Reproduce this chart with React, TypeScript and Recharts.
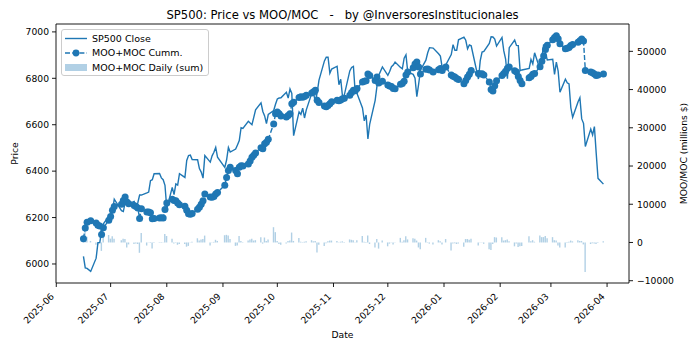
import React from "react";
import {
  ComposedChart,
  Line,
  Bar,
  XAxis,
  YAxis,
  Legend,
  ReferenceLine,
} from "recharts";

// ---------- data ----------
const DATES: string[] = [
  // 2025-06
  "2025-06-16", "2025-06-17", "2025-06-18", "2025-06-20", "2025-06-23", "2025-06-24", "2025-06-25", "2025-06-26", "2025-06-27", "2025-06-30",
  // 2025-07
  "2025-07-01", "2025-07-02", "2025-07-03", "2025-07-07", "2025-07-08", "2025-07-09", "2025-07-10", "2025-07-11", "2025-07-14", "2025-07-15", "2025-07-16",
  "2025-07-17", "2025-07-18", "2025-07-21", "2025-07-22", "2025-07-23", "2025-07-24", "2025-07-25", "2025-07-28", "2025-07-29", "2025-07-30", "2025-07-31",
  // 2025-08
  "2025-08-01", "2025-08-04", "2025-08-05", "2025-08-06", "2025-08-07", "2025-08-08", "2025-08-11", "2025-08-12", "2025-08-13", "2025-08-14", "2025-08-15",
  "2025-08-18", "2025-08-19", "2025-08-20", "2025-08-21", "2025-08-22", "2025-08-25", "2025-08-26", "2025-08-27", "2025-08-28", "2025-08-29",
  // 2025-09
  "2025-09-02", "2025-09-03", "2025-09-04", "2025-09-05", "2025-09-08", "2025-09-09", "2025-09-10", "2025-09-11", "2025-09-12", "2025-09-15", "2025-09-16",
  "2025-09-17", "2025-09-18", "2025-09-19", "2025-09-22", "2025-09-23", "2025-09-24", "2025-09-25", "2025-09-26", "2025-09-29", "2025-09-30",
  // 2025-10
  "2025-10-01", "2025-10-02", "2025-10-03", "2025-10-06", "2025-10-07", "2025-10-08", "2025-10-09", "2025-10-10", "2025-10-13", "2025-10-14", "2025-10-15",
  "2025-10-16", "2025-10-17", "2025-10-20", "2025-10-21", "2025-10-22", "2025-10-23", "2025-10-24", "2025-10-27", "2025-10-28", "2025-10-29", "2025-10-30",
  "2025-10-31",
  // 2025-11
  "2025-11-03", "2025-11-04", "2025-11-05", "2025-11-06", "2025-11-07", "2025-11-10", "2025-11-11", "2025-11-12", "2025-11-13", "2025-11-14", "2025-11-17",
  "2025-11-18", "2025-11-19", "2025-11-20", "2025-11-21", "2025-11-24", "2025-11-25", "2025-11-26", "2025-11-28",
  // 2025-12
  "2025-12-01", "2025-12-02", "2025-12-03", "2025-12-04", "2025-12-05", "2025-12-08", "2025-12-09", "2025-12-10", "2025-12-11", "2025-12-12", "2025-12-15",
  "2025-12-16", "2025-12-17", "2025-12-18", "2025-12-19", "2025-12-22", "2025-12-23", "2025-12-24", "2025-12-26", "2025-12-29", "2025-12-30", "2025-12-31",
  // 2026-01
  "2026-01-02", "2026-01-05", "2026-01-06", "2026-01-07", "2026-01-08", "2026-01-09", "2026-01-12", "2026-01-13", "2026-01-14", "2026-01-15", "2026-01-16",
  "2026-01-20", "2026-01-21", "2026-01-22", "2026-01-23", "2026-01-26", "2026-01-27", "2026-01-28", "2026-01-29", "2026-01-30",
  // 2026-02
  "2026-02-02", "2026-02-03", "2026-02-04", "2026-02-05", "2026-02-06", "2026-02-09", "2026-02-10", "2026-02-11", "2026-02-12", "2026-02-13", "2026-02-17",
  "2026-02-18", "2026-02-19", "2026-02-20", "2026-02-23", "2026-02-24", "2026-02-25", "2026-02-26", "2026-02-27",
  // 2026-03
  "2026-03-02", "2026-03-03", "2026-03-04", "2026-03-05", "2026-03-06", "2026-03-09", "2026-03-10", "2026-03-11", "2026-03-12", "2026-03-13", "2026-03-16",
  "2026-03-17", "2026-03-18", "2026-03-19", "2026-03-20", "2026-03-23", "2026-03-24", "2026-03-25", "2026-03-26", "2026-03-27", "2026-03-30",
];

const SP500_CLOSE: number[] = [
  6033, 5983, 5981, 5968, 6025, 6092, 6092, 6141, 6173, 6205,
  6198, 6227, 6279, 6230, 6226, 6263, 6280, 6260, 6269, 6244, 6264, 6297, 6297, 6306, 6310, 6359, 6363, 6389, 6390, 6371, 6363, 6339,
  6238, 6330, 6299, 6345, 6340, 6389, 6373, 6446, 6467, 6469, 6450, 6449, 6411, 6396, 6370, 6467, 6439, 6466, 6481, 6502, 6460,
  6416, 6448, 6502, 6482, 6495, 6513, 6532, 6587, 6584, 6615, 6607, 6600, 6632, 6664, 6694, 6657, 6638, 6605, 6644, 6661, 6688,
  6711, 6715, 6716, 6740, 6715, 6754, 6735, 6553, 6655, 6644, 6671, 6629, 6664, 6735, 6735, 6699, 6738, 6792, 6875, 6891, 6891, 6822, 6840,
  6852, 6772, 6796, 6720, 6729, 6832, 6847, 6851, 6737, 6734, 6672, 6617, 6642, 6539, 6603, 6705, 6766, 6813, 6849,
  6813, 6829, 6850, 6857, 6870, 6847, 6841, 6887, 6901, 6827, 6817, 6800, 6721, 6775, 6835, 6878, 6910, 6932, 6930, 6906, 6896, 6846,
  6858, 6902, 6945, 6921, 6921, 6966, 6977, 6964, 6927, 6944, 6940, 6797, 6876, 6913, 6916, 6950, 6979, 6978, 6969, 6939,
  6976, 6918, 6883, 6798, 6932, 6965, 6942, 6941, 6833, 6836, 6843, 6881, 6862, 6910, 6838, 6890, 6946, 6909, 6879,
  6882, 6817, 6870, 6831, 6740, 6796, 6781, 6776, 6673, 6632, 6699, 6716, 6625, 6606, 6506, 6581, 6556, 6592, 6477, 6369, 6344,
];

const MOO_MOC_CUMM: number[] = [
  1000, 3800, 5300, 5700, 5100, 4500, 4300, 2100, 3850, 5800,
  6800, 8400, 9400, 10000, 11000, 11900, 10600, 10100, 9700, 9400, 9000, 6300, 8800, 8000, 7950, 7800, 6200, 6300, 6400, 6500, 6400, 8600,
  10300, 11300, 11000, 10900, 10300, 9900, 9500, 8400, 7500, 7400, 7600, 8700, 9200, 10000, 10900, 12700, 11900, 11850, 12000, 12700, 13100,
  15000, 17000, 18800, 19700, 18800, 18000, 19700, 20100, 20000, 20500, 21300, 22300, 22800, 23400, 24800, 24500, 25800, 26200, 27000, 31000, 33700,
  34100, 33700, 33100, 32800, 33200, 33700, 36300, 36700, 37900, 38100, 38000, 38200, 38500, 39100, 39400, 39800, 37200, 36600, 35700, 35500, 35800, 36300, 36800,
  37200, 37100, 37300, 37600, 37700, 38500, 39200, 39800, 39700, 40300, 42000, 42200, 42300, 44100, 43700, 42400, 43300, 41700, 42200,
  41200, 40900, 40800, 40300, 40200, 41400, 41600, 42200, 43800, 44600, 45700, 46700, 47200, 45900, 44100, 45300, 45400, 45100, 44600, 45200, 45500, 45000,
  45900, 43800, 43500, 43300, 42900, 42600, 41500, 42400, 43300, 44000, 45000, 44200, 44100, 44150, 43800, 42000, 40000, 39600, 41000, 42300,
  43700, 44200, 44800, 45600, 45900, 44900, 44600, 43400, 42400, 41500, 43100, 43400, 44000, 44200, 46000, 47400, 48800, 50500, 51600,
  53000, 53600, 54100, 53300, 52000, 50700, 50800, 51000, 51500, 51800, 52400, 52800, 53200, 52700, 45000, 44600, 44400, 44100, 43700, 43800, 44100,
];

const MOO_MOC_DAILY: number[] = [
  1000, 2800, 1500, 400, -600, -600, -200, -2200, 1750, 1950,
  1000, 1600, 1000, 600, 1000, 900, -1300, -500, -400, -300, -400, -2700, 2500, -800, -50, -150, -1600, 100, 100, 100, -100, 2200,
  1700, 1000, -300, -100, -600, -400, -400, -1100, -900, -100, 200, 1100, 500, 800, 900, 1800, -800, -50, 150, 700, 400,
  1900, 2000, 1800, 900, -900, -800, 1700, 400, -100, 500, 800, 1000, 500, 600, 1400, -300, 1300, 400, 800, 4000, 2700,
  400, -400, -600, -300, 400, 500, 2600, 400, 1200, 200, -100, 200, 300, 600, 300, 400, -2600, -600, -900, -200, 300, 500, 500,
  400, -100, 200, 300, 100, 800, 700, 600, -100, 600, 1700, 200, 100, 1800, -400, -1300, 900, -1600, 500,
  -1000, -300, -100, -500, -100, 1200, 200, 600, 1600, 800, 1100, 1000, 500, -1300, -1800, 1200, 100, -300, -500, 600, 300, -500,
  900, -2100, -300, -200, -400, -300, -1100, 900, 900, 700, 1000, -800, -100, 50, -350, -1800, -2000, -400, 1400, 1300,
  1400, 500, 600, 800, 300, -1000, -300, -1200, -1000, -900, 1600, 300, 600, 200, 1800, 1400, 1400, 1700, 1100,
  1400, 600, 500, -800, -1300, -1300, 100, 200, 500, 300, 600, 400, 400, -500, -7700, -400, -200, -300, -400, 100, 300,
];

const MONTH_TICKS: string[] = [
  "2025-06", "2025-07", "2025-08", "2025-09", "2025-10", "2025-11",
  "2025-12", "2026-01", "2026-02", "2026-03", "2026-04",
];
const PRICE_TICKS: number[] = [6000, 6200, 6400, 6600, 6800, 7000];
const MM_TICKS: number[] = [-10000, 0, 10000, 20000, 30000, 40000, 50000];

const TITLE = "SP500: Price vs MOO/MOC   -   by @InversoresInstitucionales";

// ---------- derived table ----------
const DAY = 86400000;
const data = DATES.map((d, i) => ({
  t: Date.parse(d),
  close: SP500_CLOSE[i],
  cum: MOO_MOC_CUMM[i],
  daily: MOO_MOC_DAILY[i],
}));
const xTicks = MONTH_TICKS.map((m) => Date.parse(m + "-01"));
const xDomain = [Date.parse("2025-06-01") - 0.15 * DAY, Date.parse("2025-06-01") + 316.1 * DAY];

const BLUE = "#1f77b4";
const FONT = "'DejaVu Sans', sans-serif";
const FS = 9.2;
const LFS = 9.5;

const fmtMinus = (v: number) => String(v).replace("-", "\u2212");

const XTick = (props: any) => {
  const { x, y, payload } = props;
  const label = new Date(payload.value).toISOString().slice(0, 7);
  const px = x - 1.6;
  const py = y + 10;
  return (
    <text
      x={px}
      y={py}
      transform={`rotate(-45, ${px}, ${py})`}
      textAnchor="end"
      fontSize={FS}
      fontFamily={FONT}
      fill="#000"
    >
      {label}
    </text>
  );
};

const LegendBox = () => (
  <svg width={148} height={47} style={{ display: "block" }}>
    <rect x={0.5} y={0.5} width={147} height={46} rx={2.5} ry={2.5} fill="rgba(255,255,255,0.8)" stroke="#cccccc" strokeWidth={1} />
    <line x1={4} y1={9.5} x2={26} y2={9.5} stroke={BLUE} strokeWidth={1.4} />
    <text x={31} y={9.5} dy="0.36em" fontSize={LFS} fontFamily={FONT} fill="#000">SP500 Close</text>
    <line x1={4} y1={24} x2={26} y2={24} stroke={BLUE} strokeWidth={1.4} strokeDasharray="5 2.2" />
    <circle cx={15} cy={24} r={3.4} fill={BLUE} />
    <text x={31} y={24} dy="0.36em" fontSize={LFS} fontFamily={FONT} fill="#000">MOO+MOC Cumm.</text>
    <rect x={4} y={35} width={22} height={7} fill={BLUE} fillOpacity={0.35} />
    <text x={31} y={38.5} dy="0.36em" fontSize={LFS} fontFamily={FONT} fill="#000">MOO+MOC Daily (sum)</text>
  </svg>
);

const axisStroke = { stroke: "#000", strokeWidth: 0.9 };
const tickStyle = { fontSize: FS, fill: "#000", fontFamily: FONT };

export default function App() {
  return (
    <div style={{ position: "absolute", left: 0, top: 0, width: 700, height: 350, background: "#fff" }}>
      <div
        style={{
          position: "absolute",
          left: 56,
          top: 7.5,
          width: 573,
          textAlign: "center",
          fontFamily: FONT,
          fontSize: 11.6,
          lineHeight: "14px",
          color: "#000",
          whiteSpace: "pre",
          zIndex: 2,
        }}
      >
        {TITLE}
      </div>
      <ComposedChart
        width={700}
        height={350}
        data={data}
        margin={{ top: 24, right: 0, bottom: 0, left: 0 }}
      >
        <XAxis
          dataKey="t"
          type="number"
          domain={xDomain}
          allowDataOverflow
          ticks={xTicks}
          interval={0}
          height={67}
          tickSize={4}
          tickMargin={0}
          tick={<XTick />}
          axisLine={axisStroke}
          tickLine={axisStroke}
          label={(p: any) => {
            const vb = p.viewBox;
            return (
              <text x={vb.x + vb.width / 2} y={vb.y + 54.5} textAnchor="middle" fontSize={FS} fontFamily={FONT} fill="#000">
                Date
              </text>
            );
          }}
        />
        <YAxis
          yAxisId="price"
          orientation="left"
          domain={[5918, 7034]}
          allowDataOverflow
          ticks={PRICE_TICKS}
          interval={0}
          width={56}
          tickSize={4}
          tickMargin={3}
          tick={tickStyle}
          axisLine={axisStroke}
          tickLine={axisStroke}
          label={(p: any) => {
            const vb = p.viewBox;
            const cx = vb.x + 15;
            const cy = vb.y + vb.height / 2;
            return (
              <text x={cx} y={cy} dy="0.36em" transform={`rotate(-90, ${cx}, ${cy})`} textAnchor="middle" fontSize={FS} fontFamily={FONT} fill="#000">
                Price
              </text>
            );
          }}
        />
        <YAxis
          yAxisId="mm"
          orientation="right"
          domain={[-10600, 57150]}
          allowDataOverflow
          ticks={MM_TICKS}
          interval={0}
          width={71}
          tickSize={4}
          tickMargin={4}
          tick={tickStyle}
          tickFormatter={fmtMinus}
          axisLine={axisStroke}
          tickLine={axisStroke}
          label={(p: any) => {
            const vb = p.viewBox;
            const cx = vb.x + 54.5;
            const cy = vb.y + vb.height / 2;
            return (
              <text x={cx} y={cy} dy="0.36em" transform={`rotate(-90, ${cx}, ${cy})`} textAnchor="middle" fontSize={FS} fontFamily={FONT} fill="#000">
                MOO/MOC (millions $)
              </text>
            );
          }}
        />
        <ReferenceLine yAxisId="price" y={7034} stroke="#000" strokeWidth={0.9} />
        <Line
          yAxisId="price"
          dataKey="close"
          stroke={BLUE}
          strokeWidth={1.4}
          dot={false}
          activeDot={false}
          isAnimationActive={false}
        />
        <Bar
          yAxisId="mm"
          dataKey="daily"
          fill={BLUE}
          fillOpacity={0.35}
          barSize={1.4}
          isAnimationActive={false}
        />
        <Line
          yAxisId="mm"
          dataKey="cum"
          stroke={BLUE}
          strokeWidth={1.4}
          strokeDasharray="5 2.2"
          dot={{ r: 3.5, fill: BLUE, stroke: "none", strokeDasharray: "0" }}
          activeDot={false}
          isAnimationActive={false}
        />
        <Legend
          layout="vertical"
          align="center"
          verticalAlign="middle"
          wrapperStyle={{ left: 61, top: 29, width: 148, height: 47 }}
          content={() => <LegendBox />}
        />
      </ComposedChart>
    </div>
  );
}
